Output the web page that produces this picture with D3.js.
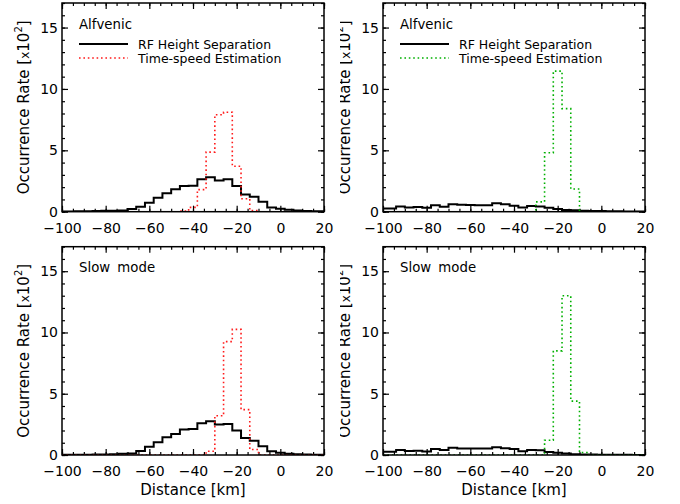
<!DOCTYPE html>
<html>
<head>
<meta charset="utf-8">
<script src="https://cdn.jsdelivr.net/npm/d3@7"></script>
<style>
  html, body { margin: 0; padding: 0; background: #fff; }
  svg { display: block; }
  text { font-family: "DejaVu Sans", "Liberation Sans", sans-serif; fill: #000; }
</style>
</head>
<body>
<svg id="chart" width="680" height="504"></svg>
<script>
// ---------- data ----------
const binCenters = [-100,-96,-92,-88,-84,-80,-76,-72,-68,-64,-60,-56,-52,-48,-44,-40,-36,-32,-28,-24,-20,-16,-12,-8,-4,0,4,8,12,16,20];
const xTickValues = [-100,-80,-60,-40,-20,0,20];
const yTickValues = [0,5,10,15];
const panelTitles = ["Alfvenic","Alfvenic","Slow mode","Slow mode"];
const legendLabels = ["RF Height Separation","Time-speed Estimation"];

// Alfvenic, RF height separation (left panel)
const alfRF_L = [0.02,0.02,0.03,0.03,0.05,0.07,0.08,0.1,0.22,0.4,0.73,1.14,1.5,1.82,2.1,2.12,2.64,2.8,2.55,2.64,2.1,1.41,1.22,0.82,0.35,0.25,0.15,0.1,0.06,0.04,0.03];
// Alfvenic, time-speed estimation (left panel)
const alfTS_L = [0,0,0,0,0,0,0,0,0,0,0,0,0,0,0.05,0.35,1.8,4.85,7.9,8.1,3.7,1.05,0.1,0,0,0,0,0,0,0,0];
// Alfvenic, RF height separation (right panel)
const alfRF_R = [0.27,0.27,0.43,0.35,0.38,0.33,0.52,0.4,0.6,0.57,0.55,0.52,0.52,0.68,0.6,0.49,0.35,0.46,0.43,0.33,0.22,0.14,0.11,0.08,0.06,0.05,0.04,0.03,0.02,0.02,0.02];
// Alfvenic, time-speed estimation (right panel)
const alfTS_R = [0,0,0,0,0,0,0,0,0,0,0,0,0,0,0,0,0,0,0.8,4.8,11.45,8.4,1.85,0,0,0,0,0,0,0,0];
// Slow mode, RF height separation (left panel)
const slowRF_L = [0.02,0.02,0.03,0.03,0.04,0.05,0.06,0.1,0.13,0.32,0.68,1.04,1.45,1.72,2.08,2.13,2.6,2.76,2.49,2.54,2.0,1.39,1.17,0.71,0.3,0.18,0.1,0.06,0.04,0.03,0.02];
// Slow mode, time-speed estimation (left panel)
const slowTS_L = [0,0,0,0,0,0,0,0,0,0,0,0,0,0,0,0,0,0.3,3.2,9.25,10.25,3.7,0.45,0,0,0,0,0,0,0,0];
// Slow mode, RF height separation (right panel)
const slowRF_R = [0.26,0.26,0.4,0.32,0.34,0.29,0.48,0.4,0.59,0.53,0.53,0.53,0.53,0.64,0.56,0.48,0.3,0.4,0.38,0.25,0.18,0.12,0.07,0.05,0.04,0.03,0.03,0.02,0.02,0.01,0.01];
// Slow mode, time-speed estimation (right panel)
const slowTS_R = [0,0,0,0,0,0,0,0,0,0,0,0,0,0,0,0,0,0,0,1.2,8.5,13.0,4.4,0.2,0,0,0,0,0,0,0];

const binWidth = 4;

// ---------- layout ----------
const svg = d3.select("#chart");
const panels = [
  {title: panelTitles[0], rf: alfRF_L,  ts: alfTS_L,  color: "#ff1a1a", left: 62,  right: 324, top: 3,   bottom: 211.7, legend: true,  clipLeft: 0,   xlabel: false},
  {title: panelTitles[1], rf: alfRF_R,  ts: alfTS_R,  color: "#00b000", left: 383, right: 645, top: 3,   bottom: 211.7, legend: true,  clipLeft: 340, xlabel: false},
  {title: panelTitles[2], rf: slowRF_L, ts: slowTS_L, color: "#ff1a1a", left: 62,  right: 324, top: 246.7, bottom: 455, legend: false, clipLeft: 0,   xlabel: true},
  {title: panelTitles[3], rf: slowRF_R, ts: slowTS_R, color: "#00b000", left: 383, right: 645, top: 246.7, bottom: 455, legend: false, clipLeft: 340, xlabel: true}
];

// measure title font so that "Alfvenic" is ~53 px wide, as in the reference
const probe = svg.append("text").attr("font-size", 13).text(panelTitles[0]);
const probeW = probe.node().getComputedTextLength() || 52;
probe.remove();
const titleSize = Math.max(12, Math.min(17, 13 * 53 / probeW));

const defs = svg.append("defs");

panels.forEach((p, i) => {
  const g = svg.append("g");
  if (p.clipLeft > 0) {
    defs.append("clipPath").attr("id", "pc" + i)
      .append("rect").attr("x", p.clipLeft).attr("y", 0).attr("width", 680 - p.clipLeft).attr("height", 504);
    g.attr("clip-path", "url(#pc" + i + ")");
  }
  const x = d3.scaleLinear().domain([-100, 20]).range([p.left, p.right]);
  const y = d3.scaleLinear().domain([0, 17]).range([p.bottom, p.top]);

  defs.append("clipPath").attr("id", "area" + i)
    .append("rect").attr("x", p.left).attr("y", p.top - 1).attr("width", p.right - p.left).attr("height", p.bottom - p.top + 1);

  const minorX = d3.range(-100, 20.1, 5);
  const minorY = d3.range(0, 17.1, 1);

  g.append("g").attr("transform", `translate(0,${p.bottom})`)
    .call(d3.axisBottom(x).tickValues(xTickValues).tickSize(-6).tickPadding(11)
      .tickFormat(d => d < 0 ? "\u2212" + Math.abs(d) : String(d)));
  g.append("g").attr("transform", `translate(0,${p.bottom})`)
    .call(d3.axisBottom(x).tickValues(minorX).tickSize(-3).tickFormat(""));
  g.append("g").attr("transform", `translate(0,${p.top})`)
    .call(d3.axisTop(x).tickValues(xTickValues).tickSize(-6).tickFormat(""));
  g.append("g").attr("transform", `translate(0,${p.top})`)
    .call(d3.axisTop(x).tickValues(minorX).tickSize(-3).tickFormat(""));
  g.append("g").attr("transform", `translate(${p.left},0)`)
    .call(d3.axisLeft(y).tickValues(yTickValues).tickSize(-6).tickPadding(4));
  g.append("g").attr("transform", `translate(${p.left},0)`)
    .call(d3.axisLeft(y).tickValues(minorY).tickSize(-3).tickFormat(""));
  g.append("g").attr("transform", `translate(${p.right},0)`)
    .call(d3.axisRight(y).tickValues(yTickValues).tickSize(-6).tickFormat(""));
  g.append("g").attr("transform", `translate(${p.right},0)`)
    .call(d3.axisRight(y).tickValues(minorY).tickSize(-3).tickFormat(""));

  g.selectAll(".domain").remove();
  g.selectAll(".tick line").attr("stroke", "#000").attr("stroke-width", 1.2);
  g.selectAll(".tick text").attr("font-size", 14).attr("font-family", "DejaVu Sans, sans-serif").attr("fill", "#000");

  const stepLine = d3.line().x(d => x(d[0])).y(d => y(d[1]));
  const toSteps = vals => {
    const pts = [];
    binCenters.forEach((c, k) => {
      pts.push([c - binWidth / 2, vals[k]]);
      pts.push([c + binWidth / 2, vals[k]]);
    });
    return pts;
  };
  const hg = g.append("g").attr("clip-path", `url(#area${i})`);
  hg.append("path").attr("d", stepLine(toSteps(p.rf)))
    .attr("fill", "none").attr("stroke", "#000").attr("stroke-width", 2);
  hg.append("path").attr("d", stepLine(toSteps(p.ts)))
    .attr("fill", "none").attr("stroke", p.color).attr("stroke-width", 1.6)
    .attr("stroke-dasharray", "1.6,2.8");

  g.append("rect").attr("x", p.left).attr("y", p.top)
    .attr("width", p.right - p.left).attr("height", p.bottom - p.top)
    .attr("fill", "none").attr("stroke", "#000").attr("stroke-width", 1.5);

  g.append("text").attr("x", p.left + 17).attr("y", p.top + 25.5)
    .attr("font-size", titleSize).attr("word-spacing", 3).text(p.title);

  if (p.legend) {
    const lx0 = p.left + 17, lx1 = p.left + 66;
    g.append("line").attr("x1", lx0).attr("x2", lx1).attr("y1", p.top + 41).attr("y2", p.top + 41)
      .attr("stroke", "#000").attr("stroke-width", 2);
    g.append("line").attr("x1", lx0).attr("x2", lx1).attr("y1", p.top + 55).attr("y2", p.top + 55)
      .attr("stroke", p.color).attr("stroke-width", 1.6).attr("stroke-dasharray", "1.6,2.8");
    g.append("text").attr("x", p.left + 76).attr("y", p.top + 45.5).attr("font-size", 12.5).text(legendLabels[0]);
    g.append("text").attr("x", p.left + 76).attr("y", p.top + 59.5).attr("font-size", 12.5).text(legendLabels[1]);
  }

  const yc = (p.top + p.bottom) / 2;
  const yl = g.append("text").attr("transform", `translate(${p.left - 33.5},${yc}) rotate(-90)`)
    .attr("text-anchor", "middle").attr("font-size", 15);
  yl.append("tspan").text("Occurrence Rate [");
  yl.append("tspan").attr("font-size", 12).text("x");
  yl.append("tspan").text("10");
  yl.append("tspan").attr("font-size", 10).attr("dy", -7).text("2");
  yl.append("tspan").attr("dy", 7).text("]");

  if (p.xlabel) {
    g.append("text").attr("x", (p.left + p.right) / 2).attr("y", 495)
      .attr("text-anchor", "middle").attr("font-size", 15).text("Distance [km]");
  }
});
</script>
</body>
</html>
